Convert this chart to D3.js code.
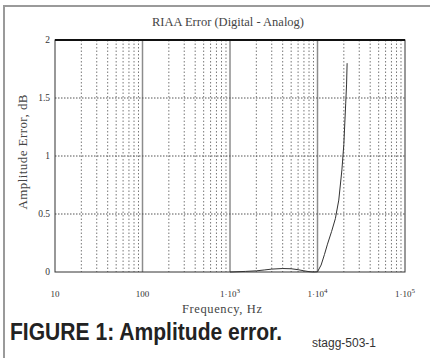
<!DOCTYPE html>
<html>
<head>
<meta charset="utf-8">
<script src="https://cdn.jsdelivr.net/npm/d3@7"></script>
<style>
  html, body { margin: 0; padding: 0; background: #fff; }
  svg { display: block; }
</style>
</head>
<body>
<svg id="chart" width="430" height="358"></svg>
<script>
// RIAA error, digital minus analog, in dB against frequency in Hz
const freqHz = [1000, 1500, 2000, 2500, 3000, 4000, 5000, 6000, 7000, 8000, 9000, 10000,
                11000, 12000, 13000, 14500, 16000, 17500, 19000, 20000, 21000, 21500, 21800];
const errorDb = [0.0, 0.005, 0.01, 0.018, 0.025, 0.03, 0.028, 0.02, 0.01, 0.003, 0.0, 0.002,
                 0.06, 0.15, 0.24, 0.35, 0.46, 0.62, 0.88, 1.1, 1.45, 1.62, 1.8];

const decadeTicks = [10, 100, 1000, 10000, 100000];
const decadeMantissa = ["10", "100", "1·10", "1·10", "1·10"];
const decadeExponent = ["", "", "3", "4", "5"];
const yTicks = [0, 0.5, 1, 1.5, 2];
const yTickLabels = ["0", "0.5", "1", "1.5", "2"];

const svg = d3.select("#chart");
const serif = "'Liberation Serif', 'DejaVu Serif', serif";

const x = d3.scaleLog().domain([10, 100000]).range([55, 405]);
const y = d3.scaleLinear().domain([0, 2]).range([272, 40]);

// outer frame of the figure
svg.append("rect")
  .attr("x", 4).attr("y", 6).attr("width", 440).attr("height", 360)
  .attr("fill", "none").attr("stroke", "#9a9a9a").attr("stroke-width", 2);

// minor vertical grid: 2..9 in every decade
const minor = [];
for (let d = 10; d < 100000; d *= 10) for (let m = 2; m <= 9; m++) minor.push(d * m);
svg.append("g").selectAll("line").data(minor).join("line")
  .attr("x1", d => x(d)).attr("x2", d => x(d))
  .attr("y1", y(2)).attr("y2", y(0))
  .attr("stroke", "#777").attr("stroke-width", 1)
  .attr("stroke-dasharray", "1.5,2");

// decade lines
svg.append("g").selectAll("line").data(decadeTicks.slice(1, -1)).join("line")
  .attr("x1", d => x(d)).attr("x2", d => x(d))
  .attr("y1", y(2)).attr("y2", y(0))
  .attr("stroke", "#8c8c8c").attr("stroke-width", 1.5);

// horizontal dotted grid
svg.append("g").selectAll("line").data(yTicks.slice(1, -1)).join("line")
  .attr("x1", x(10)).attr("x2", x(100000))
  .attr("y1", d => y(d)).attr("y2", d => y(d))
  .attr("stroke", "#555").attr("stroke-width", 1)
  .attr("stroke-dasharray", "1.5,1.5");

// plot border
svg.append("rect")
  .attr("x", x(10)).attr("y", y(2))
  .attr("width", x(100000) - x(10)).attr("height", y(0) - y(2))
  .attr("fill", "none").attr("stroke", "#333").attr("stroke-width", 1);
svg.append("line")
  .attr("x1", x(10)).attr("x2", x(100000)).attr("y1", y(2)).attr("y2", y(2))
  .attr("stroke", "#111").attr("stroke-width", 2);

// error curve
const line = d3.line().x((d, i) => x(freqHz[i])).y(d => y(d));
svg.append("path")
  .datum(errorDb)
  .attr("d", line)
  .attr("fill", "none").attr("stroke", "#333").attr("stroke-width", 1);

// y tick labels
svg.append("g").selectAll("text").data(yTicks).join("text")
  .attr("x", 50).attr("y", d => y(d) + 3)
  .attr("text-anchor", "end")
  .attr("font-family", serif).attr("font-size", 9.5).attr("fill", "#333")
  .text((d, i) => yTickLabels[i]);

// x tick labels
const xl = svg.append("g").selectAll("text").data(decadeTicks).join("text")
  .attr("x", d => x(d)).attr("y", 297)
  .attr("text-anchor", "middle")
  .attr("font-family", serif).attr("font-size", 9).attr("fill", "#333");
xl.append("tspan").text((d, i) => decadeMantissa[i]);
xl.append("tspan").attr("dy", -4).attr("font-size", 7).text((d, i) => decadeExponent[i]);

// titles
svg.append("text")
  .attr("x", 228).attr("y", 26).attr("text-anchor", "middle")
  .attr("font-family", serif).attr("font-size", 12.5).attr("fill", "#444")
  .text("RIAA Error (Digital - Analog)");
svg.append("text")
  .attr("transform", "translate(27,152) rotate(-90)").attr("text-anchor", "middle")
  .attr("font-family", serif).attr("font-size", 13).attr("fill", "#444")
  .attr("textLength", 115).attr("lengthAdjust", "spacing")
  .text("Amplitude Error, dB");
svg.append("text")
  .attr("x", 222).attr("y", 313).attr("text-anchor", "middle")
  .attr("font-family", serif).attr("font-size", 12.5).attr("fill", "#444")
  .attr("textLength", 80).attr("lengthAdjust", "spacing")
  .text("Frequency, Hz");

// caption
svg.append("text")
  .attr("x", 10).attr("y", 340)
  .attr("font-family", "'Liberation Sans Narrow', 'Liberation Sans', Arial, sans-serif")
  .attr("font-weight", "bold").attr("font-size", 23).attr("fill", "#222")
  .attr("textLength", 272).attr("lengthAdjust", "spacingAndGlyphs")
  .text("FIGURE 1: Amplitude error.");
svg.append("text")
  .attr("x", 312).attr("y", 347)
  .attr("font-family", "'Liberation Sans', Arial, sans-serif")
  .attr("font-size", 12).attr("fill", "#333")
  .text("stagg-503-1");
</script>
</body>
</html>
